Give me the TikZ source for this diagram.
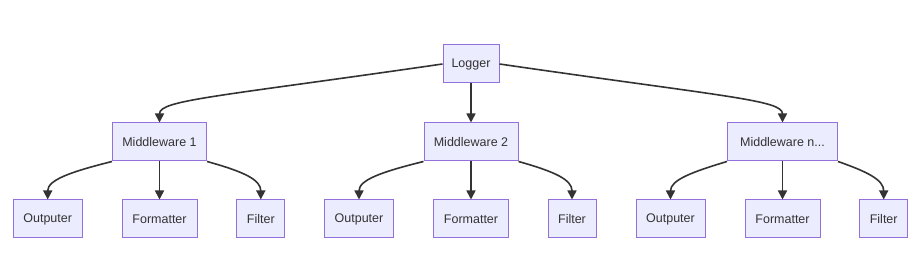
\documentclass[tikz,border=0pt]{standalone}
\usepackage{fontspec}
\setmainfont{Liberation Sans}
\usetikzlibrary{arrows.meta,positioning}
\definecolor{boxFill}{HTML}{ECECFF}
\definecolor{boxLine}{HTML}{9370DB}
\definecolor{edgeDark}{HTML}{333333}
\tikzset{
  mbox/.style={
    rectangle, draw=boxLine, line width=1pt, fill=boxFill,
    minimum height=38pt, inner sep=0pt, text=edgeDark,
    font=\fontsize{12.5}{15}\selectfont
  },
  flowArrow/.style={-{Triangle[length=9pt,width=9pt]}, line width=1.6pt, color=edgeDark}
}

\begin{document}
\begin{tikzpicture}[x=1pt, y=-1pt]
    \useasboundingbox (0,0) rectangle (914,259);

    % root
    \node[mbox, minimum width=56pt] (logger) at (471, 64) {Logger};

    % middleware row
    \node[mbox, minimum width=94pt]  (mw1) at (159.5, 142) {Middleware 1};
    \node[mbox, minimum width=94pt]  (mw2) at (471, 142)   {Middleware 2};
    \node[mbox, minimum width=110pt] (mwn) at (782.5, 142) {Middleware n...};

    % leaves
    \node[mbox, minimum width=69pt] (out1) at (47.7, 219)  {Outputer};
    \node[mbox, minimum width=75pt] (fmt1) at (159.5, 219) {Formatter};
    \node[mbox, minimum width=48pt] (flt1) at (260.8, 219) {Filter};

    \node[mbox, minimum width=69pt] (out2) at (359, 219)   {Outputer};
    \node[mbox, minimum width=75pt] (fmt2) at (471, 219)   {Formatter};
    \node[mbox, minimum width=48pt] (flt2) at (572, 219)   {Filter};

    \node[mbox, minimum width=69pt] (outn) at (670.5, 219) {Outputer};
    \node[mbox, minimum width=75pt] (fmtn) at (782.5, 219) {Formatter};
    \node[mbox, minimum width=48pt] (fltn) at (883.7, 219) {Filter};

    % logger to middlewares
    \draw[flowArrow] (logger.west) .. controls (215,97) and (159.5,100) .. (mw1.north);
    \draw[flowArrow] (logger.south) -- (mw2.north);
    \draw[flowArrow] (logger.east) .. controls (727,97) and (782.5,100) .. (mwn.north);

    % middlewares to leaves
    \draw[flowArrow] (mw1.south west) .. controls (70,172) and (47.7,180) .. (out1.north);
    \draw[flowArrow] (mw1.south) -- (fmt1.north);
    \draw[flowArrow] (mw1.south east) .. controls (245,172) and (260.8,180) .. (flt1.north);

    \draw[flowArrow] (mw2.south west) .. controls (381,172) and (359,180) .. (out2.north);
    \draw[flowArrow] (mw2.south) -- (fmt2.north);
    \draw[flowArrow] (mw2.south east) .. controls (556,172) and (572,180) .. (flt2.north);

    \draw[flowArrow] (mwn.south west) .. controls (692,172) and (670.5,180) .. (outn.north);
    \draw[flowArrow] (mwn.south) -- (fmtn.north);
    \draw[flowArrow] (mwn.south east) .. controls (868,172) and (883.7,180) .. (fltn.north);
\end{tikzpicture}
\end{document}
